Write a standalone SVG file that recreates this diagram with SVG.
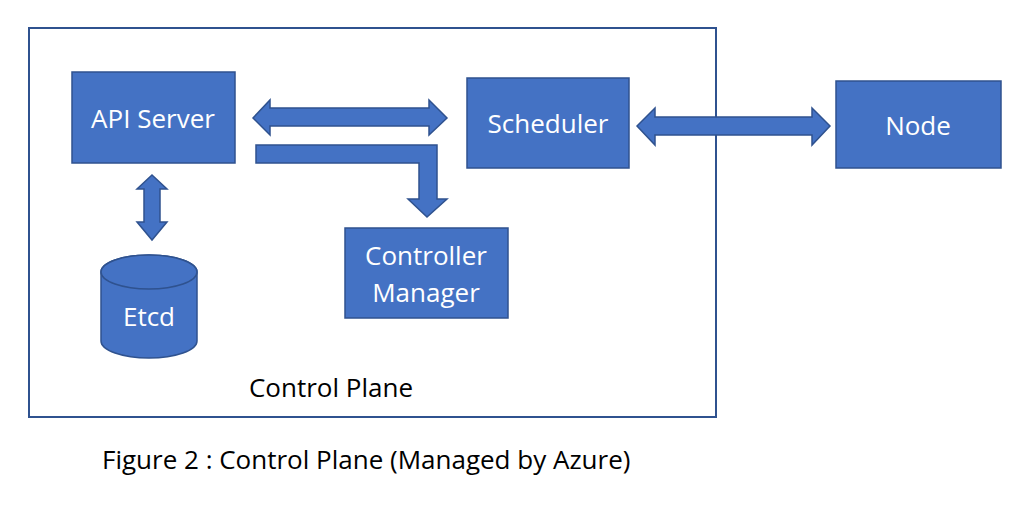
<svg xmlns="http://www.w3.org/2000/svg" width="1023" height="509" viewBox="0 0 1023 509">
<style>
.b{fill:#4472C4;stroke:#2F528F;stroke-width:1.5}
.t{fill:#fff;font-family:"Open Sans","Noto Sans",sans-serif;font-size:26px;text-anchor:middle}
.k{fill:#000;font-family:"Open Sans","Noto Sans",sans-serif;font-size:26px}
</style>
<rect width="1023" height="509" fill="#fff"/>
<rect x="29" y="28" width="687" height="389" fill="none" stroke="#2F528F" stroke-width="2"/>
<text class="k" x="331" y="397" text-anchor="middle">Control Plane</text>
<text class="k" x="102" y="469">Figure 2 : Control Plane (Managed by Azure)</text>
<g id="connectors">
<path class="b" d="M253,118 L270,100 L270,108 L429,108 L429,100 L447,118 L429,135 L429,126 L270,126 L270,135 Z"/>
<path class="b" d="M256,145 L437,145 L437,199 L447,199 L427,217 L408,199 L419,199 L419,163 L256,163 Z"/>
<path class="b" d="M152,175 L167,189 L160,189 L160,222 L167,222 L152,240 L137,222 L144,222 L144,189 L137,189 Z"/>
<path class="b" d="M637,126 L655,108 L655,117 L812,117 L812,108 L830,126 L812,145 L812,135 L655,135 L655,145 Z"/>
</g>
<g id="api"><rect class="b" x="72" y="72" width="163" height="91"/><text class="t" x="153" y="128">API Server</text></g>
<g id="scheduler"><rect class="b" x="467" y="78" width="162" height="90"/><text class="t" x="548" y="133">Scheduler</text></g>
<g id="node"><rect class="b" x="836" y="81" width="165" height="87"/><text class="t" x="918" y="135">Node</text></g>
<g id="cm"><rect class="b" x="345" y="228" width="163" height="90"/><text class="t" x="426" y="265">Controller</text><text class="t" x="426" y="302">Manager</text></g>
<g id="etcd">
<path class="b" d="M101,272 L101,341 A48,17 0 0 0 197,341 L197,272 A48,17 0 0 0 101,272 Z"/>
<ellipse class="b" cx="149" cy="272" rx="48" ry="17"/>
<text class="t" x="149" y="326">Etcd</text>
</g>
</svg>
